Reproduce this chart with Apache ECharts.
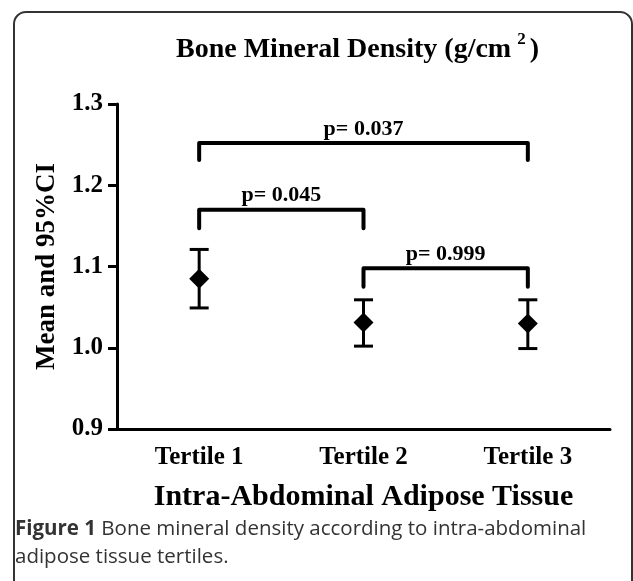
<!DOCTYPE html>
<html>
<head>
<meta charset="utf-8">
<script src="https://cdn.jsdelivr.net/npm/echarts@6/dist/echarts.min.js"></script>
<style>
  html, body { margin: 0; padding: 0; background: #fff; }
  #chart { width: 633px; height: 581px; }
</style>
</head>
<body>
<div id="chart"></div>
<script>
// tertile categories + means / 95% CI
var tertiles = ['Tertile 1', 'Tertile 2', 'Tertile 3'];
var means = [1.085, 1.031, 1.030];
var ciLow = [1.049, 1.002, 0.999];
var ciHigh = [1.121, 1.059, 1.059];
// brackets: [from, to, top, leg end, label]
var brackets = [
  [0, 2, 1.252, 1.231, 'p= 0.037'],
  [0, 1, 1.170, 1.147, 'p= 0.045'],
  [1, 2, 1.098, 1.075, 'p= 0.999']
];
var yTicks = [0.9, 1.0, 1.1, 1.2, 1.3];

var serif = '"Liberation Serif", "Times New Roman", serif';

window.onload = function () {
  var chart = echarts.init(document.getElementById('chart'));

  var errData = tertiles.map(function (t, i) { return [i, ciLow[i], ciHigh[i]]; });

  chart.setOption({
    animation: false,
    backgroundColor: '#fff',
    title: {
      left: 171,
      top: 26,
      text: '{a|Bone Mineral Density (g/cm}{s|2}{a|)}',
      textStyle: {
        rich: {
          a: { fontFamily: serif, fontWeight: 'bold', fontSize: 28, color: '#000' },
          s: { fontFamily: serif, fontWeight: 'bold', fontSize: 17, color: '#000', padding: [0, 4, 20, 6] }
        }
      }
    },
    grid: { left: 117, right: 23, top: 104, bottom: 152 },
    xAxis: {
      type: 'category',
      data: tertiles,
      name: 'Intra-Abdominal Adipose Tissue',
      nameLocation: 'middle',
      nameGap: 53,
      nameTextStyle: { fontFamily: serif, fontWeight: 'bold', fontSize: 30, color: '#000' },
      axisLine: { lineStyle: { color: '#000', width: 3 } },
      axisTick: { alignWithLabel: true, length: 8, lineStyle: { color: '#000', width: 3 } },
      axisLabel: { margin: 16, fontFamily: serif, fontWeight: 'bold', fontSize: 25, color: '#000' }
    },
    yAxis: {
      type: 'value',
      min: yTicks[0],
      max: yTicks[yTicks.length - 1],
      interval: 0.1,
      name: 'Mean and 95%CI',
      nameLocation: 'middle',
      nameGap: 54,
      nameTextStyle: { fontFamily: serif, fontWeight: 'bold', fontSize: 27, color: '#000' },
      splitLine: { show: false },
      axisLine: { show: true, lineStyle: { color: '#000', width: 3 } },
      axisTick: { show: true, length: 9, lineStyle: { color: '#000', width: 3 } },
      axisLabel: {
        margin: 14, fontFamily: serif, fontWeight: 'bold', fontSize: 25, color: '#000',
        formatter: function (v) { return v.toFixed(1); }
      }
    },
    series: [{
      // error bars
      type: 'custom',
      data: errData,
      renderItem: function (params, api) {
        var lo = api.coord([api.value(0), api.value(1)]);
        var hi = api.coord([api.value(0), api.value(2)]);
        var hw = 9.5;
        var st = { stroke: '#000', lineWidth: 3 };
        return {
          type: 'group',
          children: [
            { type: 'line', shape: { x1: lo[0], y1: lo[1], x2: hi[0], y2: hi[1] }, style: st },
            { type: 'line', shape: { x1: lo[0] - hw, y1: lo[1], x2: lo[0] + hw, y2: lo[1] }, style: st },
            { type: 'line', shape: { x1: hi[0] - hw, y1: hi[1], x2: hi[0] + hw, y2: hi[1] }, style: st }
          ]
        };
      },
      z: 2
    }, {
      type: 'scatter',
      data: means,
      symbol: 'diamond',
      symbolSize: [20, 20],
      itemStyle: { color: '#000', opacity: 1 },
      z: 3
    }, {
      // significance brackets
      type: 'custom',
      data: brackets,
      renderItem: function (params, api) {
        var b = brackets[params.dataIndex];
        var p1 = api.coord([b[0], b[3]]);
        var p2 = api.coord([b[0], b[2]]);
        var p3 = api.coord([b[1], b[2]]);
        var p4 = api.coord([b[1], b[3]]);
        return {
          type: 'group',
          children: [{
            type: 'polyline',
            shape: { points: [p1, p2, p3, p4] },
            style: { stroke: '#000', lineWidth: 4, fill: null, lineCap: 'round', lineJoin: 'round' }
          }, {
            type: 'text',
            style: {
              x: (p2[0] + p3[0]) / 2, y: p2[1] - 3,
              text: b[4], align: 'center', verticalAlign: 'bottom',
              font: 'bold 22px ' + serif, fill: '#000'
            }
          }]
        };
      },
      z: 2
    }],
    graphic: [{
      type: 'rect',
      shape: { x: 14, y: 12, width: 618, height: 700, r: 12 },
      style: { fill: null, stroke: '#333', lineWidth: 2 },
      silent: true
    }, {
      type: 'text',
      left: 15,
      top: 515,
      style: {
        text: '{b|Figure 1} Bone mineral density according to intra-abdominal\nadipose tissue tertiles.',
        font: '20.5px "Open Sans", sans-serif',
        fill: '#333',
        lineHeight: 28,
        rich: {
          b: { fontFamily: '"Open Sans", sans-serif', fontWeight: 'bold', fontSize: 20.5, fill: '#333', lineHeight: 28 }
        }
      }
    }]
  });
};
</script>
</body>
</html>
